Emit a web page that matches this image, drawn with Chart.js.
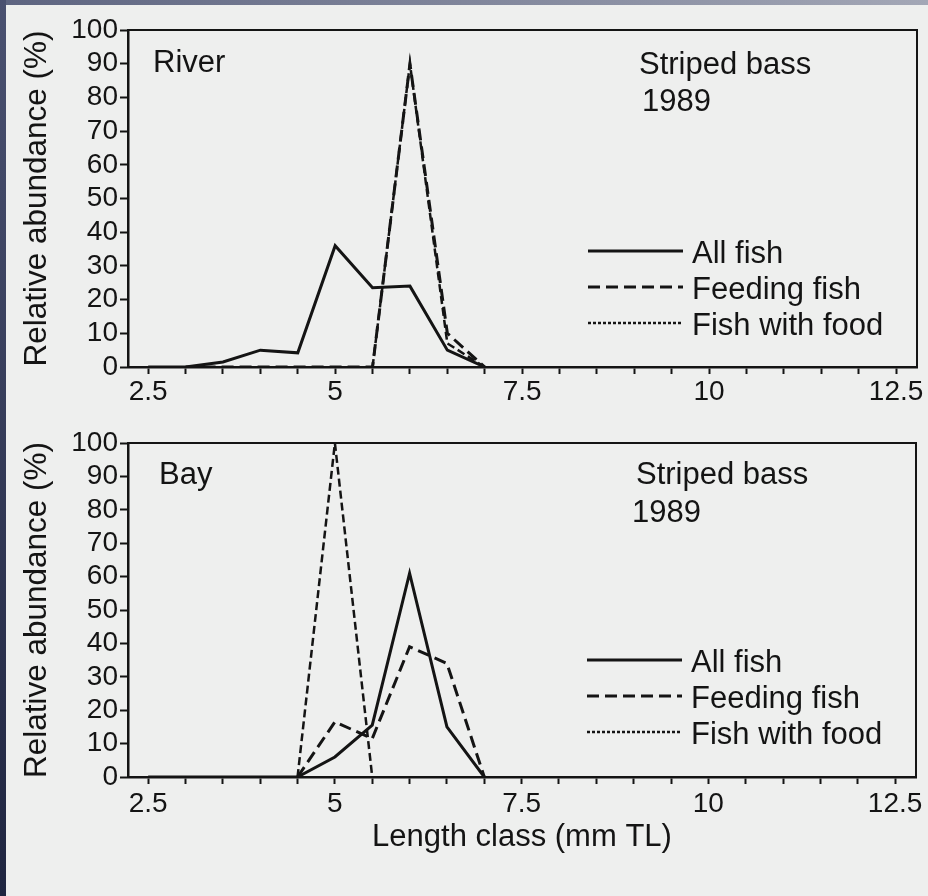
<!DOCTYPE html>
<html>
<head>
<meta charset="utf-8">
<title>Striped bass 1989</title>
<script src="https://cdn.jsdelivr.net/npm/chart.js@4.4.0/dist/chart.umd.min.js"></script>
<style>
  html, body { margin: 0; padding: 0; }
  body { width: 928px; height: 896px; background: #eeefee; position: relative; overflow: hidden; }
  #topStrip { position: absolute; left: 0; top: 0; width: 928px; height: 5px; background: linear-gradient(to right, #5d6480, #a3a7b6); z-index: 2; }
  #leftStrip { position: absolute; left: 0; top: 0; width: 6px; height: 896px; background: linear-gradient(to bottom, #4a5170, #1f2540); z-index: 2; }
  .panel { position: absolute; left: 0; width: 928px; }
  #riverBox { top: 0; height: 420px; }
  #bayBox { top: 420px; height: 476px; }
</style>
</head>
<body>
<div id="topStrip"></div>
<div id="leftStrip"></div>
<div class="panel" id="riverBox"><canvas id="riverChart"></canvas></div>
<div class="panel" id="bayBox"><canvas id="bayChart"></canvas></div>
<script>
'use strict';

// length classes (mm TL) where the curves have points
let lengthClass = [2.5, 3, 3.5, 4, 4.5, 5, 5.5, 6, 6.5, 7];
let xTicks = [2.5, 3, 3.5, 4, 4.5, 5, 5.5, 6, 6.5, 7, 7.5, 8, 8.5, 9, 9.5, 10, 10.5, 11, 11.5, 12, 12.5];
let xLabels = [2.5, 5, 7.5, 10, 12.5];
let yTicks = [0, 10, 20, 30, 40, 50, 60, 70, 80, 90, 100];

let seriesNames = ['All fish', 'Feeding fish', 'Fish with food'];

// River
let riverAll = [0, 0, 1.5, 5, 4.2, 36, 23.5, 24, 5, 0];
let riverFeeding = [null, 0, 0, 0, 0, 0, 0, 90, 10, 0];
let riverWithFood = [null, null, null, null, null, null, 0, 90, 7, 0];

// Bay
let bayAll = [0, 0, 0, 0, 0, 6, 15.5, 61, 15, 0];
let bayFeeding = [null, null, null, null, 0, 16.5, 11.5, 39, 34, 0];
let bayWithFood = [null, null, null, null, 0, 100, 0, null, null, null];

let ink = '#141414';
let fontName = '"Liberation Sans", Arial, Helvetica, sans-serif';

let lineStyles = [
  { width: 3, dash: [], legendDash: [] },
  { width: 3, dash: [12, 6], legendDash: [12, 6] },
  { width: 2.5, dash: [8, 4], legendDash: [3, 2] }
];

function toPoints(vals) {
  let pts = [];
  for (let i = 0; i < lengthClass.length; i++) {
    pts.push({ x: lengthClass[i], y: vals[i] });
  }
  return pts;
}

// frame, site name, species text and the legend inside the plot
let panelText = {
  id: 'panelText',
  afterDraw(chart, args, opts) {
    let ctx = chart.ctx;
    let a = chart.chartArea;
    ctx.save();
    ctx.strokeStyle = ink;
    ctx.lineWidth = 2;
    ctx.beginPath();
    ctx.moveTo(a.left, a.top);
    ctx.lineTo(a.right, a.top);
    ctx.lineTo(a.right, a.bottom);
    ctx.stroke();

    ctx.fillStyle = ink;
    ctx.font = '31px ' + fontName;
    ctx.textBaseline = 'middle';
    ctx.textAlign = 'left';
    ctx.fillText(opts.site, opts.siteX, opts.siteY);
    ctx.fillText('Striped bass', opts.specX, opts.specY);
    ctx.fillText('1989', opts.yearX, opts.yearY);

    for (let i = 0; i < seriesNames.length; i++) {
      let y = opts.legY + i * opts.legGap;
      ctx.lineWidth = lineStyles[i].width;
      ctx.setLineDash(lineStyles[i].legendDash);
      ctx.beginPath();
      ctx.moveTo(opts.legX, y);
      ctx.lineTo(opts.legX + 95, y);
      ctx.stroke();
      ctx.setLineDash([]);
      ctx.fillText(seriesNames[i], opts.legX + 104, y + 3);
    }
    ctx.restore();
  }
};

function makeChart(id, all, feeding, withFood, o) {
  let sets = [all, feeding, withFood].map((vals, i) => ({
    label: seriesNames[i],
    data: toPoints(vals),
    borderColor: ink,
    borderWidth: lineStyles[i].width,
    borderDash: lineStyles[i].dash,
    borderJoinStyle: 'miter',
    pointRadius: 0,
    tension: 0,
    fill: false
  }));

  return new Chart(document.getElementById(id), {
    type: 'line',
    data: { datasets: sets },
    plugins: [panelText],
    options: {
      responsive: true,
      maintainAspectRatio: false,
      animation: false,
      layout: { padding: { top: o.top, right: o.right, left: 0, bottom: 0 } },
      plugins: {
        legend: { display: false },
        tooltip: { enabled: false },
        panelText: o.text
      },
      elements: { line: { clip: false } },
      scales: {
        x: {
          type: 'linear',
          min: 2.23,
          max: 12.78,
          afterBuildTicks: s => { s.ticks = xTicks.map(v => ({ value: v })); },
          afterFit: s => { s.height = o.xHeight; },
          ticks: {
            autoSkip: false,
            maxRotation: 0,
            padding: o.xPad,
            color: ink,
            font: { family: fontName, size: 28 },
            callback: v => xLabels.includes(v) ? String(v) : ''
          },
          grid: { drawOnChartArea: false, drawTicks: true, tickLength: 7, tickWidth: 2, tickColor: ink },
          border: { display: true, color: ink, width: 2.5 },
          title: {
            display: o.xTitle,
            text: 'Length class (mm TL)',
            color: ink,
            font: { family: fontName, size: 31, lineHeight: 1.2 },
            padding: { top: 0, bottom: 40 }
          }
        },
        y: {
          min: 0,
          max: 100,
          afterBuildTicks: s => { s.ticks = yTicks.map(v => ({ value: v })); },
          afterFit: s => { s.width = 128; },
          ticks: {
            autoSkip: false,
            padding: 2,
            color: ink,
            font: { family: fontName, size: 28 }
          },
          grid: { drawOnChartArea: false, drawTicks: true, tickLength: 8, tickWidth: 2, tickColor: ink },
          border: { display: true, color: ink, width: 2.5 },
          title: {
            display: true,
            text: 'Relative abundance (%)',
            color: ink,
            font: { family: fontName, size: 31.5, lineHeight: 1.2 },
            padding: { top: 18, bottom: 0 }
          }
        }
      }
    }
  });
}

makeChart('riverChart', riverAll, riverFeeding, riverWithFood, {
  top: 30, right: 11, xHeight: 53, xPad: 1, xTitle: false,
  text: { site: 'River', siteX: 153, siteY: 63, specX: 639, specY: 65, yearX: 642, yearY: 102,
          legX: 588, legY: 251, legGap: 36 }
});

makeChart('bayChart', bayAll, bayFeeding, bayWithFood, {
  top: 23, right: 12, xHeight: 119, xPad: 3, xTitle: true,
  text: { site: 'Bay', siteX: 159, siteY: 55, specX: 636, specY: 55, yearX: 632, yearY: 93,
          legX: 587, legY: 240, legGap: 36 }
});
</script>
</body>
</html>
